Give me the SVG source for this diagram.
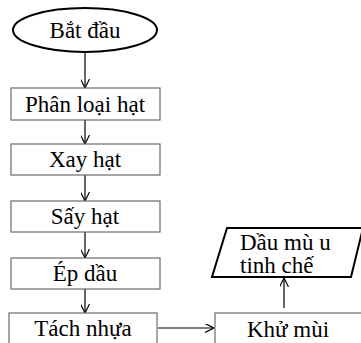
<svg xmlns="http://www.w3.org/2000/svg" width="361" height="343" viewBox="0 0 361 343">
<defs>
<style>
.box{fill:#fff;stroke:#6b6b6b;stroke-width:1.2}
.term{fill:#fff;stroke:#000;stroke-width:2}
text{font-family:"Liberation Serif","Times New Roman",serif;font-size:23px;fill:#000}
.c{text-anchor:middle}
.ln{fill:none;stroke:#000;stroke-width:1.2}
</style>
<marker id="ah" viewBox="0 0 10 10" refX="10" refY="5" markerWidth="9" markerHeight="9" markerUnits="userSpaceOnUse" orient="auto">
<path d="M0,0 L10,5 L0,10" fill="none" stroke="#000" stroke-width="1.3"/>
</marker>
</defs>
<rect width="361" height="343" fill="#fff"/>
<g id="connectors">
<line class="ln" x1="85" y1="52" x2="85" y2="88" marker-end="url(#ah)"/>
<line class="ln" x1="85" y1="120" x2="85" y2="144" marker-end="url(#ah)"/>
<line class="ln" x1="85" y1="175" x2="85" y2="201" marker-end="url(#ah)"/>
<line class="ln" x1="85" y1="232" x2="85" y2="258" marker-end="url(#ah)"/>
<line class="ln" x1="85" y1="289" x2="85" y2="313" marker-end="url(#ah)"/>
<line class="ln" x1="158" y1="328" x2="214" y2="328" marker-end="url(#ah)"/>
<line class="ln" x1="284" y1="308" x2="284" y2="278" marker-end="url(#ah)"/>
</g>
<g id="start">
<ellipse class="term" cx="85" cy="30" rx="72" ry="22"/>
<text class="c" x="85" y="38">Bắt đầu</text>
</g>
<g id="phanloai">
<rect class="box" x="11" y="88" width="149" height="32"/>
<text class="c" x="85" y="112">Phân loại hạt</text>
</g>
<g id="xay">
<rect class="box" x="11" y="144" width="149" height="31"/>
<text class="c" x="85" y="167">Xay hạt</text>
</g>
<g id="say">
<rect class="box" x="11" y="201" width="149" height="31"/>
<text class="c" x="85" y="224">Sấy hạt</text>
</g>
<g id="ep">
<rect class="box" x="11" y="258" width="149" height="31"/>
<text class="c" x="85" y="281">Ép dầu</text>
</g>
<g id="tach">
<rect class="box" x="9" y="313" width="148" height="34"/>
<text class="c" x="83" y="336">Tách nhựa</text>
</g>
<g id="khumui">
<rect class="box" x="215" y="313" width="150" height="34"/>
<text class="c" x="288" y="337">Khử mùi</text>
</g>
<g id="output">
<polygon class="term" points="227,228 363,228 351,277 212,277"/>
<text x="240" y="250">Dầu mù u</text>
<text x="240" y="273">tinh chế</text>
</g>
</svg>
